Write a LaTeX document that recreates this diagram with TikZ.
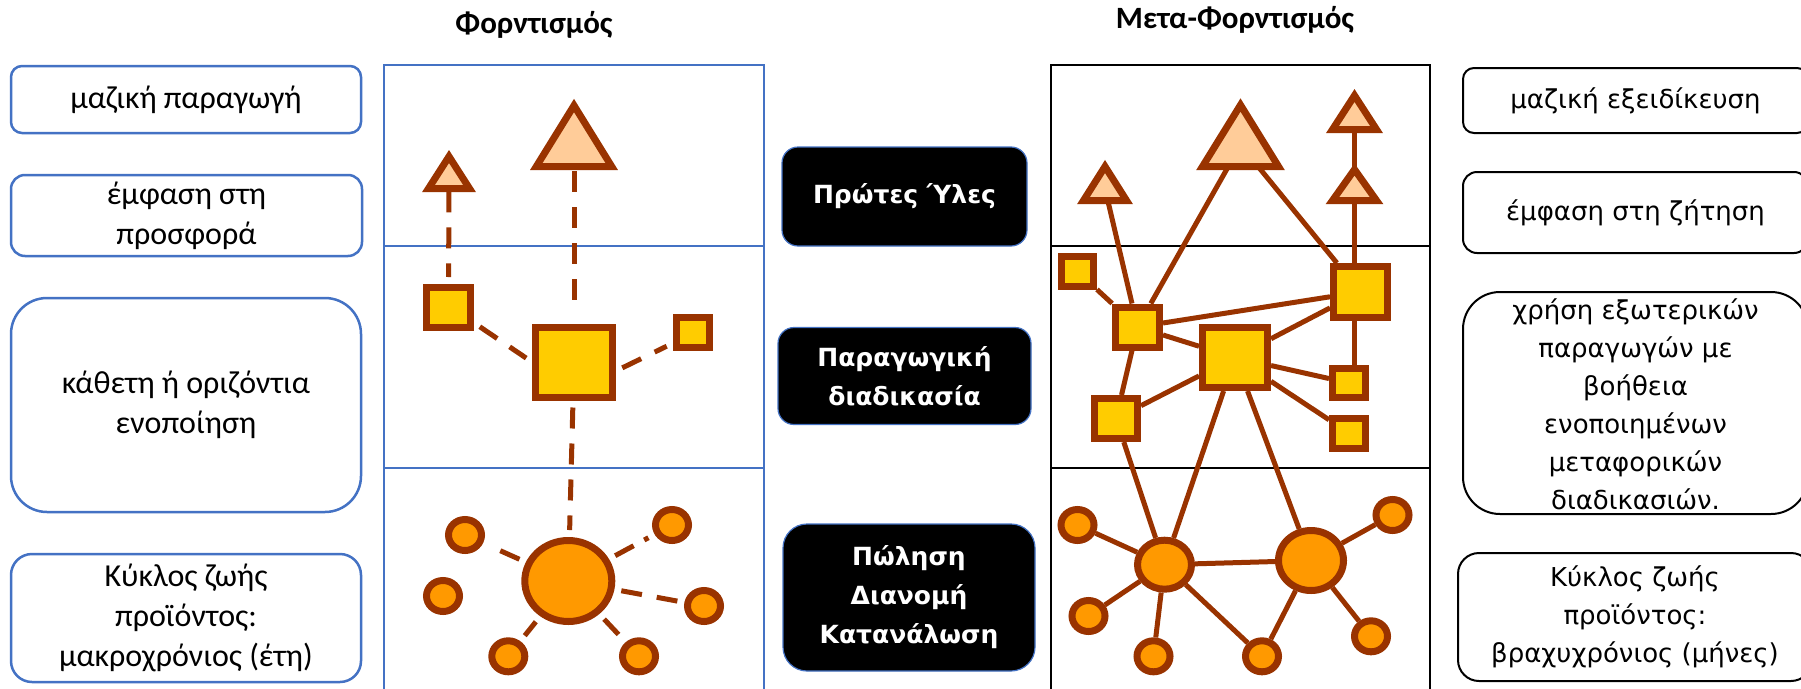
\documentclass[tikz,border=0pt]{standalone}
\usepackage{fontspec}
\setmainfont{Carlito}
\newfontfamily\dvs{DejaVu Sans}
\usetikzlibrary{shapes.geometric}
\pgfdeclarelayer{panelbg}
\pgfdeclarelayer{linkbg}
\pgfsetlayers{panelbg,linkbg,main}
\definecolor{brn}{HTML}{993300}
\definecolor{trif}{HTML}{FFCC99}
\definecolor{sqf}{HTML}{FFCC00}
\definecolor{cirf}{HTML}{FF9900}
\definecolor{pblue}{HTML}{4472C4}
\newcommand\trishape[5]{% name, cx, base y, half width, height
  \draw[trist] ({#2-#4},#3) -- (#2,{#3-#5}) -- ({#2+#4},#3) -- cycle;
  \coordinate (#1) at (#2,{#3-0.35*#5});}
\begin{document}
\begin{tikzpicture}[x=1pt,y=-1pt,
  shp/.style={draw=brn,line width=7pt,inner sep=0pt},
  sqn/.style={shp,rectangle,fill=sqf},
  cirn/.style={shp,ellipse,fill=cirf},
  trist/.style={draw=brn,line width=7pt,fill=trif,line join=miter},
  dlink/.style={draw=brn,line width=5pt,dash pattern=on 21pt off 15pt,shorten <=7pt,shorten >=7pt},
  slink/.style={draw=brn,line width=5pt},
  lbox/.style={draw=pblue,line width=2.5pt,rectangle,align=center,inner sep=0pt,font=\fontsize{32}{40}\selectfont},
  rbox/.style={draw=black,line width=2pt,rectangle,align=center,inner sep=0pt,font=\dvs\fontsize{26}{38}\selectfont},
  mbox/.style={fill=black,draw=pblue,line width=1.2pt,rectangle,align=center,inner sep=0pt,text=white,font=\dvs\bfseries\fontsize{25}{39}\selectfont},
  ttl/.style={font=\bfseries\fontsize{31}{36}\selectfont,inner sep=0pt}
]
\useasboundingbox (0,0) rectangle (1801,688);
\clip (0,0) rectangle (1801,688);

% panels
\begin{pgfonlayer}{panelbg}
\fill[white] (0,0) rectangle (1801,688);
\draw[pblue,line width=2.5pt] (384,700) -- (384,65) -- (764,65) -- (764,700);
\draw[pblue,line width=2.5pt] (384,246) -- (764,246) (384,468) -- (764,468);
\draw[black,line width=2.5pt] (1051,700) -- (1051,65) -- (1430,65) -- (1430,700);
\draw[black,line width=2.5pt] (1051,246) -- (1430,246) (1051,468) -- (1430,468);
\end{pgfonlayer}

% titles
\node[ttl] (t1) at (534,25) {Φορντισμός};
\node[ttl] (t2) at (1235,20) {Μετα-Φορντισμός};

% left boxes
\node[lbox,minimum width=350pt,minimum height=67pt,rounded corners=11pt] (l1) at (186,99.5) {μαζική παραγωγή};
\node[lbox,minimum width=351pt,minimum height=81pt,rounded corners=14pt] (l2) at (186.5,215.5) {έμφαση στη\\προσφορά};
\node[lbox,minimum width=350pt,minimum height=214pt,rounded corners=36pt] (l3) at (186,405) {κάθετη ή οριζόντια\\ενοποίηση};
\node[lbox,minimum width=350pt,minimum height=128pt,rounded corners=21pt] (l4) at (186,618) {Κύκλος ζωής\\προϊόντος:\\μακροχρόνιος (έτη)};

% middle boxes
\node[mbox,minimum width=245pt,minimum height=99pt,rounded corners=16pt] (m1) at (904.5,196.5) {Πρώτες Ύλες};
\node[mbox,minimum width=253pt,minimum height=97pt,rounded corners=16pt] (m2) at (904.5,376) {Παραγωγική\\διαδικασία};
\node[mbox,minimum width=252pt,minimum height=147pt,rounded corners=24pt] (m3) at (909,597.5) {Πώληση\\Διανομή\\Κατανάλωση};

% right boxes
\node[rbox,minimum width=345pt,minimum height=65pt,rounded corners=11pt] (r1) at (1635.5,100.5) {μαζική εξειδίκευση};
\node[rbox,minimum width=345pt,minimum height=81pt,rounded corners=14pt] (r2) at (1635.5,212.5) {έμφαση στη ζήτηση};
\node[rbox,minimum width=345pt,minimum height=222pt,rounded corners=37pt] (r3) at (1635.5,403) {};
\node[font=\dvs\fontsize{26}{38}\selectfont,align=center,inner sep=0pt] (r3t) at (1635.5,404) {χρήση εξωτερικών\\παραγωγών με\\βοήθεια\\ενοποιημένων\\μεταφορικών\\διαδικασιών.};
\node[rbox,minimum width=354pt,minimum height=128pt,rounded corners=21pt] (r4) at (1635,617) {Κύκλος ζωής\\προϊόντος:\\βραχυχρόνιος (μήνες)};

% ---------- left network (Fordism) ----------
\trishape{tsl}{449}{188.5}{20.5}{32}
\trishape{tbl}{574}{166.5}{37.7}{61}
\node[sqn,minimum width=44pt,minimum height=40pt] (sq1) at (448.5,307.5) {};
\node[sqn,minimum width=77pt,minimum height=70pt] (bsq) at (574,362) {};
\node[sqn,minimum width=33pt,minimum height=30pt] (sqr) at (693,332.5) {};
\node[cirn,minimum width=87pt,minimum height=81pt] (bigc) at (568.3,581) {};
\node[cirn,minimum width=33pt,minimum height=31pt] (c1) at (465,535) {};
\node[cirn,minimum width=33pt,minimum height=31pt] (c2) at (672,525) {};
\node[cirn,minimum width=33pt,minimum height=31pt] (c3) at (704,606) {};
\node[cirn,minimum width=33pt,minimum height=31pt] (c4) at (639,656.3) {};
\node[cirn,minimum width=33pt,minimum height=31pt] (c5) at (508.3,656.3) {};
\node[cirn,minimum width=33pt,minimum height=31pt] (c6) at (443,596) {};

\begin{pgfonlayer}{linkbg}
\draw[dlink,shorten <=14pt] (tsl) -- (sq1);
\draw[dlink,shorten <=26pt,shorten >=20pt] (tbl) -- (bsq);
\draw[dlink] (sq1.-31) -- (bsq.west);
\draw[dlink] (bsq.-12) -- (sqr.208);
\draw[dlink] (bsq) -- (bigc);
\draw[dlink] (bigc) -- (c1);
\draw[dlink,dash pattern=on 21pt off 12pt] (bigc) -- (c2);
\draw[dlink] (bigc) -- (c3);
\draw[dlink] (bigc) -- (c4);
\draw[dlink] (bigc) -- (c5);
\end{pgfonlayer}

% ---------- right network (Post-Fordism) ----------
\trishape{trl}{1105}{200.5}{21.5}{34}
\trishape{trb}{1240.5}{166.5}{38}{61.5}
\trishape{ttr}{1354.5}{129.5}{22}{34}
\trishape{tmr}{1354.5}{200.5}{22}{31}
\node[sqn,minimum width=32pt,minimum height=30pt] (A) at (1077.5,271.5) {};
\node[sqn,minimum width=44pt,minimum height=40pt] (B) at (1137.5,327) {};
\node[sqn,minimum width=65pt,minimum height=60pt] (C) at (1235,357.5) {};
\node[sqn,minimum width=54pt,minimum height=51pt] (D) at (1360.5,292) {};
\node[sqn,minimum width=33pt,minimum height=29pt] (E) at (1349,383) {};
\node[sqn,minimum width=33pt,minimum height=30pt] (F) at (1349,433) {};
\node[sqn,minimum width=43pt,minimum height=40pt] (G) at (1116,418.5) {};
\node[cirn,minimum width=54pt,minimum height=49pt] (H) at (1164.5,564.7) {};
\node[cirn,minimum width=65pt,minimum height=60pt] (I) at (1311,560.5) {};
\node[cirn,minimum width=33pt,minimum height=31pt] (s1) at (1077.5,525) {};
\node[cirn,minimum width=33pt,minimum height=31pt] (s2) at (1088.5,616) {};
\node[cirn,minimum width=33pt,minimum height=31pt] (s3) at (1153.5,656.3) {};
\node[cirn,minimum width=33pt,minimum height=31pt] (s4) at (1262,656.3) {};
\node[cirn,minimum width=33pt,minimum height=31pt] (s5) at (1371,636.3) {};
\node[cirn,minimum width=33pt,minimum height=31pt] (s6) at (1392.5,515) {};

\begin{pgfonlayer}{linkbg}
\draw[slink] (trl) -- (B);
\draw[slink] (trb) -- (B);
\draw[slink] (trb) -- (D);
\draw[slink] (ttr) -- (ttr |- E);
\draw[slink] (A) -- (B);
\draw[slink] (B) -- (D);
\draw[slink] (B) -- (C);
\draw[slink] (C) -- (D);
\draw[slink] (C) -- (E);
\draw[slink] (C) -- (F);
\draw[slink] (B) -- (G);
\draw[slink] (G) -- (C);
\draw[slink] (G) -- (H);
\draw[slink] (C) -- (H);
\draw[slink] (C) -- (I);
\draw[slink] (H) -- (I);
\draw[slink] (s1) -- (H);
\draw[slink] (s2) -- (H);
\draw[slink] (s3) -- (H);
\draw[slink] (s4) -- (H);
\draw[slink] (s4) -- (I);
\draw[slink] (s5) -- (I);
\draw[slink] (s6) -- (I);
\end{pgfonlayer}
\end{tikzpicture}
\end{document}
